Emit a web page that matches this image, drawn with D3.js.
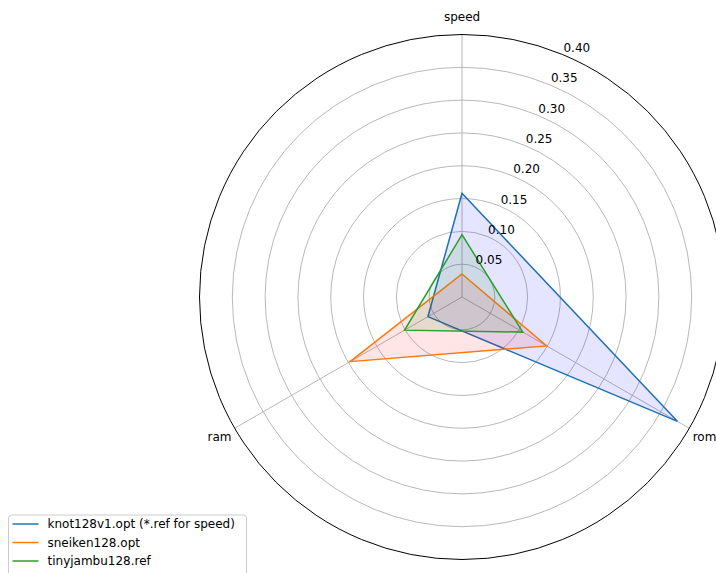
<!DOCTYPE html>
<html>
<head>
<meta charset="utf-8">
<script src="https://cdn.jsdelivr.net/npm/d3@7"></script>
<style>
  body { margin: 0; background: #fff; }
  svg { display: block; font-family: "DejaVu Sans", sans-serif; }
</style>
</head>
<body>
<div class="chart"></div>
<script>
"use strict";

const axesNames = ["speed", "rom", "ram"];
const seriesNames = ["knot128v1.opt (*.ref for speed)", "sneiken128.opt", "tinyjambu128.ref"];
const knotValues = [0.158, 0.379, 0.060];
const sneikenValues = [0.035, 0.149, 0.197];
const tinyjambuValues = [0.095, 0.107, 0.101];
const rTicks = [0.05, 0.1, 0.15, 0.2, 0.25, 0.3, 0.35, 0.4];
const lineColors = ["#1f77b4", "#ff7f0e", "#2ca02c"];
const fillColors = ["#0000ff", "#ff0000", "#008000"];

const WIDTH = 716, HEIGHT = 573;
const CX = 462, CY = 297, R = 262.5;
const FONT = "12px";

const series = [knotValues, sneikenValues, tinyjambuValues];

const rScale = d3.scaleLinear().domain([0, 0.4]).range([0, R]);
const aScale = d3.scalePoint().domain(axesNames).range([0, (2 * Math.PI * 2) / 3]);

const svg = d3
  .select(".chart")
  .append("svg")
  .attr("width", WIDTH)
  .attr("height", HEIGHT);

const g = svg.append("g").attr("transform", `translate(${CX},${CY})`);

// grid rings
g.selectAll("circle.ring")
  .data(rTicks.slice(0, -1))
  .enter()
  .append("circle")
  .attr("class", "ring")
  .attr("r", (d) => rScale(d))
  .style("fill", "none")
  .style("stroke", "#b0b0b0")
  .style("stroke-width", 0.9);

// spokes
g.selectAll("line.spoke")
  .data(axesNames)
  .enter()
  .append("line")
  .attr("x1", 0)
  .attr("y1", 0)
  .attr("x2", (d) => R * Math.sin(aScale(d)))
  .attr("y2", (d) => -R * Math.cos(aScale(d)))
  .style("stroke", "#b0b0b0")
  .style("stroke-width", 0.9);

// series
const radial = d3
  .lineRadial()
  .angle((d, i) => aScale(axesNames[i]))
  .radius((d) => rScale(d))
  .curve(d3.curveLinearClosed);

series.forEach((vals, i) => {
  g.append("path")
    .attr("d", radial(vals))
    .style("fill", "none")
    .style("stroke", lineColors[i])
    .style("stroke-width", 1.5);
  g.append("path")
    .attr("d", radial(vals))
    .style("fill", fillColors[i])
    .style("fill-opacity", 0.1)
    .style("stroke", "none");
});

// outer spine
g.append("circle")
  .attr("r", rScale(0.4))
  .style("fill", "none")
  .style("stroke", "#000")
  .style("stroke-width", 1);

// radial tick labels at 22.5 deg
const labAngle = (22.5 * Math.PI) / 180;
g.selectAll("text.rlab")
  .data(rTicks)
  .enter()
  .append("text")
  .attr("x", (d) => rScale(d) * Math.sin(labAngle) + 1)
  .attr("y", (d) => -rScale(d) * Math.cos(labAngle) - 2.5)
  .style("font-size", FONT)
  .style("fill", "#000")
  .text((d) => d3.format(".2f")(d));

// axis labels
g.selectAll("text.alab")
  .data(axesNames)
  .enter()
  .append("text")
  .attr("x", (d) => 280 * Math.sin(aScale(d)))
  .attr("y", (d) => -280 * Math.cos(aScale(d)))
  .attr("text-anchor", "middle")
  .attr("dominant-baseline", "central")
  .style("font-size", FONT)
  .text((d) => d);

// legend
const legend = svg.append("g").attr("transform", "translate(8.5,515)");
legend
  .append("rect")
  .attr("width", 238)
  .attr("height", 62)
  .attr("rx", 3)
  .style("fill", "#fff")
  .style("fill-opacity", 0.8)
  .style("stroke", "#cccccc")
  .style("stroke-width", 1);

seriesNames.forEach((name, i) => {
  const y = 9 + i * 18.5;
  legend
    .append("line")
    .attr("x1", 4)
    .attr("x2", 30)
    .attr("y1", y)
    .attr("y2", y)
    .style("stroke", lineColors[i])
    .style("stroke-width", 1.5);
  legend
    .append("text")
    .attr("x", 39)
    .attr("y", y)
    .attr("dominant-baseline", "central")
    .style("font-size", FONT)
    .text(name);
});
</script>
</body>
</html>
